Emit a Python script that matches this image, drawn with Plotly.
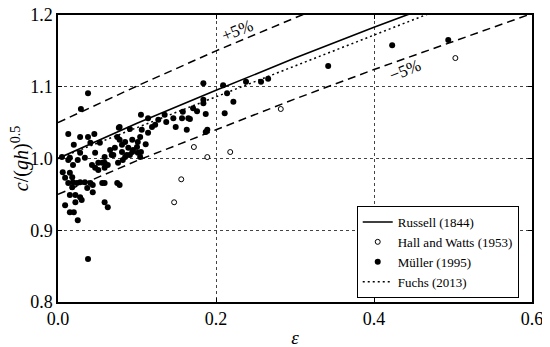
import plotly.graph_objects as go

# Theory curves
eps_line = [0.0, 0.1, 0.2, 0.3, 0.4, 0.5, 0.6]
russell = [1.000, 1.049, 1.095, 1.140, 1.183, 1.225, 1.265]
plus5 = [1.050, 1.101, 1.150, 1.197, 1.242, 1.286, 1.328]
minus5 = [0.950, 0.997, 1.040, 1.083, 1.124, 1.163, 1.202]
fuchs = [1.000, 1.043, 1.086, 1.129, 1.172, 1.215, 1.258]

# Hall and Watts (1953)
hw_eps = [0.147, 0.156, 0.172, 0.189, 0.218, 0.282, 0.503]
hw_c = [0.939, 0.971, 1.016, 1.002, 1.009, 1.069, 1.140]

# Müller (1995)
mu_eps = [0.038, 0.029, 0.184, 0.209, 0.214, 0.222, 0.184, 0.184, 0.171, 0.176,
          0.187, 0.211, 0.189, 0.187, 0.167, 0.238, 0.257, 0.266, 0.342, 0.423, 0.494,
          0.105, 0.114, 0.135, 0.146, 0.157, 0.165, 0.158, 0.137, 0.149, 0.163,
          0.127, 0.123, 0.119, 0.106, 0.091, 0.078, 0.114, 0.013, 0.028, 0.038,
          0.046, 0.077, 0.020,
          0.041, 0.053, 0.075, 0.085, 0.094, 0.104, 0.100, 0.111, 0.101, 0.105,
          0.089, 0.081, 0.095, 0.015, 0.028, 0.047, 0.059, 0.068, 0.104, 0.094,
          0.019, 0.043, 0.051, 0.059, 0.085, 0.091, 0.101, 0.005, 0.013, 0.025,
          0.034, 0.063, 0.070, 0.081, 0.087, 0.076, 0.082, 0.047, 0.051, 0.059,
          0.056, 0.072, 0.066, 0.078,
          0.006, 0.015, 0.009, 0.018, 0.013, 0.019, 0.024, 0.028, 0.018, 0.034,
          0.041, 0.044, 0.037, 0.056, 0.059, 0.075, 0.078, 0.044, 0.015, 0.022,
          0.028, 0.030, 0.022, 0.009, 0.059, 0.063, 0.015, 0.020, 0.025, 0.038]
mu_c = [1.091, 1.069, 1.105, 1.102, 1.091, 1.079, 1.082, 1.077, 1.070, 1.066,
        1.062, 1.063, 1.040, 1.037, 1.055, 1.107, 1.107, 1.111, 1.129, 1.158, 1.165,
        1.061, 1.056, 1.061, 1.056, 1.056, 1.056, 1.065, 1.051, 1.044, 1.040,
        1.054, 1.047, 1.044, 1.040, 1.041, 1.044, 1.036, 1.034, 1.030, 1.030,
        1.034, 1.043, 1.019,
        1.022, 1.022, 1.030, 1.023, 1.026, 1.030, 1.016, 1.020, 1.023, 1.009,
        1.015, 1.019, 1.012, 1.001, 1.008, 1.008, 1.002, 1.005, 1.002, 1.009,
        0.991, 0.991, 0.994, 0.994, 1.002, 1.005, 1.008, 1.002, 0.998, 0.998,
        1.001, 0.991, 1.005, 1.009, 1.005, 0.994, 0.998, 0.987, 0.984, 0.987,
        0.994, 1.015, 1.012, 1.026,
        0.981, 0.980, 0.973, 0.974, 0.966, 0.967, 0.966, 0.967, 0.960, 0.967,
        0.966, 0.963, 0.959, 0.966, 0.966, 0.966, 0.963, 0.953, 0.949, 0.949,
        0.946, 0.942, 0.939, 0.935, 0.939, 0.932, 0.925, 0.925, 0.914, 0.860]

x_ticks = [0.0, 0.2, 0.4, 0.6]
y_ticks = [0.8, 0.9, 1.0, 1.1, 1.2]

FONT = "Liberation Serif, serif"

fig = go.Figure()
fig.add_trace(go.Scatter(x=eps_line, y=plus5, mode="lines", showlegend=False,
                         line=dict(color="black", width=1.5, dash="8px,5px")))
fig.add_trace(go.Scatter(x=eps_line, y=minus5, mode="lines", showlegend=False,
                         line=dict(color="black", width=1.5, dash="8px,5px")))
fig.add_trace(go.Scatter(x=mu_eps, y=mu_c, mode="markers", name="Müller (1995)",
                         marker=dict(color="black", size=6), legendrank=3))
fig.add_trace(go.Scatter(x=hw_eps, y=hw_c, mode="markers", name="Hall and Watts (1953)",
                         marker=dict(color="white", size=5, line=dict(color="black", width=1)),
                         legendrank=2))
fig.add_trace(go.Scatter(x=eps_line, y=russell, mode="lines", name="Russell (1844)",
                         line=dict(color="black", width=1.6), legendrank=1))
fig.add_trace(go.Scatter(x=eps_line, y=fuchs, mode="lines", name="Fuchs (2013)",
                         line=dict(color="black", width=1.5, dash="2px,3px"), legendrank=4))

fig.add_annotation(x=0.227, y=1.179, xref="x", yref="y", text="+5%", showarrow=False,
                   textangle=-22, font=dict(family=FONT, size=17, color="black"))
fig.add_annotation(x=0.439, y=1.123, xref="x", yref="y", text="−5%", showarrow=False,
                   textangle=-22, font=dict(family=FONT, size=17, color="black"))

axis_common = dict(showline=True, linecolor="black", linewidth=1.5, mirror="ticks",
                   ticks="inside", ticklen=4, tickcolor="black", automargin=False,
                   ticklabeloverflow="allow",
                   showgrid=True, gridcolor="#444", griddash="dot", gridwidth=1,
                   zeroline=False, tickfont=dict(family=FONT, size=18, color="black"))

fig.update_xaxes(range=[0, 0.6], tickvals=x_ticks, ticktext=[f"{v:.1f}" for v in x_ticks],
                 title=dict(text="<i>ε</i>", font=dict(family=FONT, size=19, color="black"),
                            standoff=2),
                 **axis_common)
fig.update_yaxes(range=[0.8, 1.2], tickvals=y_ticks, ticktext=[f"{v:.1f}" for v in y_ticks],
                 title=dict(text="<i>c</i>/(<i>gh</i>)<sup>0.5</sup>",
                            font=dict(family=FONT, size=20, color="black"), standoff=2),
                 **axis_common)

# the page body has an 8px margin; margins are chosen so the plot area lands where the reference has it
fig.update_layout(
    width=550, height=347,
    margin=dict(l=50, r=26, t=7, b=53),
    plot_bgcolor="white", paper_bgcolor="white",
    font=dict(family=FONT, color="black"),
    legend=dict(x=0.972, y=0.014, xanchor="right", yanchor="bottom",
                bgcolor="white", bordercolor="black", borderwidth=1,
                font=dict(family=FONT, size=13, color="black"),
                tracegroupgap=0, itemwidth=30),
)

fig.write_html("out.html")
